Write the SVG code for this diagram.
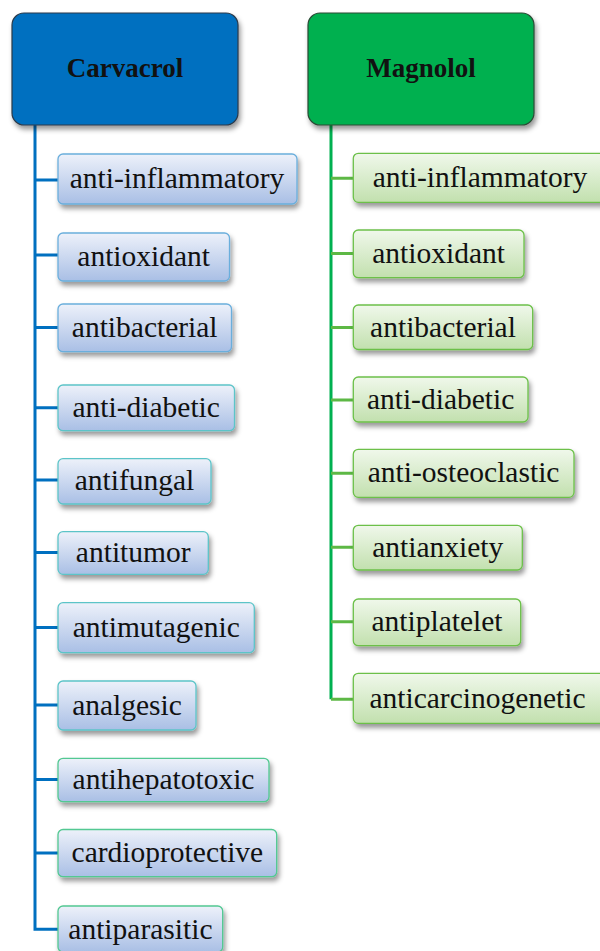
<svg xmlns="http://www.w3.org/2000/svg" width="600" height="951" viewBox="0 0 600 951">
<defs>
<linearGradient id="gb" x1="0" y1="0" x2="0" y2="1"><stop offset="0" stop-color="#EDF1FA"/><stop offset="1" stop-color="#A9BFE5"/></linearGradient>
<linearGradient id="gg" x1="0" y1="0" x2="0" y2="1"><stop offset="0" stop-color="#F0F8EB"/><stop offset="1" stop-color="#C2E0AE"/></linearGradient>
<filter id="sh" x="-10%" y="-20%" width="130%" height="160%"><feDropShadow dx="2" dy="4" stdDeviation="2.5" flood-color="#000" flood-opacity="0.4"/></filter>
</defs>
<style>
text{font-family:"Liberation Serif","Times New Roman",serif;font-size:29.5px;fill:#111;text-anchor:middle}
.hd{font-weight:bold;font-size:27px}
.b rect{fill:url(#gb);stroke-width:1.3;filter:url(#sh)}
.g rect{fill:url(#gg);stroke:#6CC04A;stroke-width:1.3;filter:url(#sh)}
.c1 rect{stroke:#6AAEDC}
.c2 rect{stroke:#5CC4C8}
.c3 rect{stroke:#52C892}
.bl{stroke:#0070C0;stroke-width:3;fill:none}
.gl{stroke:#00B050;stroke-width:3;fill:none}
.gs{stroke:#5DB845;stroke-width:3;fill:none}
</style>
<g id="connectors">
<path class="bl" d="M35,125 V929.3 H58 M35,180 H58 M35,255 H58 M35,327.5 H58 M35,407.7 H58 M35,480 H58 M35,552.5 H58 M35,627.5 H58 M35,705 H58 M35,779.5 H58 M35,853 H58"/>
<path class="gl" d="M331,125 V699.3"/>
<path class="gs" d="M331,699.3 H353 M331,178.3 H353 M331,253.5 H353 M331,327.5 H353 M331,400 H353 M331,473.3 H353 M331,547.3 H353 M331,621.7 H353"/>
</g>
<g id="carvacrol"><rect x="12" y="13" width="226" height="112" rx="12" fill="#0070C0" stroke="#2B3A4A" stroke-width="1.2" filter="url(#sh)"/><text class="hd" x="125" y="77">Carvacrol</text></g>
<g id="magnolol"><rect x="308" y="13" width="226" height="112" rx="12" fill="#00B050" stroke="#2B4A35" stroke-width="1.2" filter="url(#sh)"/><text class="hd" x="421" y="77">Magnolol</text></g>

<g id="c-antiinflammatory" class="b c1"><rect x="58" y="154" width="239" height="50" rx="5"/><text x="177" y="187.5">anti-inflammatory</text></g>
<g id="c-antioxidant" class="b c1"><rect x="58" y="233" width="171.5" height="48" rx="5"/><text x="143.7" y="265.5">antioxidant</text></g>
<g id="c-antibacterial" class="b c1"><rect x="58" y="304" width="173.5" height="47.7" rx="5"/><text x="144.7" y="336.5">antibacterial</text></g>
<g id="c-antidiabetic" class="b c2"><rect x="58" y="385" width="176.5" height="45.7" rx="5"/><text x="146.2" y="416.5">anti-diabetic</text></g>
<g id="c-antifungal" class="b c2"><rect x="58" y="458.7" width="153" height="45.3" rx="5"/><text x="134.5" y="489.5">antifungal</text></g>
<g id="c-antitumor" class="b c2"><rect x="58" y="531.7" width="150.3" height="42.6" rx="5"/><text x="133.2" y="561.5">antitumor</text></g>
<g id="c-antimutagenic" class="b c2"><rect x="58" y="602.7" width="196.3" height="50" rx="5"/><text x="156.2" y="636.5">antimutagenic</text></g>
<g id="c-analgesic" class="b c2"><rect x="58" y="681" width="138" height="49" rx="5"/><text x="127" y="714.5">analgesic</text></g>
<g id="c-antihepatotoxic" class="b c3"><rect x="58" y="758.3" width="211" height="43.4" rx="5"/><text x="163.5" y="788.5">antihepatotoxic</text></g>
<g id="c-cardioprotective" class="b c3"><rect x="58" y="829.5" width="218.7" height="47.2" rx="5"/><text x="167.4" y="862">cardioprotective</text></g>
<g id="c-antiparasitic" class="b c3"><rect x="58" y="906" width="164.7" height="46" rx="5"/><text x="140.4" y="938.5">antiparasitic</text></g>

<g id="m-antiinflammatory" class="g"><rect x="353.3" y="153.3" width="260" height="49" rx="5"/><text x="480" y="187">anti-inflammatory</text></g>
<g id="m-antioxidant" class="g"><rect x="353.3" y="230" width="170.7" height="47.7" rx="5"/><text x="438.6" y="262.5">antioxidant</text></g>
<g id="m-antibacterial" class="g"><rect x="353.3" y="305" width="179.4" height="44.5" rx="5"/><text x="443" y="336.5">antibacterial</text></g>
<g id="m-antidiabetic" class="g"><rect x="353.3" y="377" width="174.7" height="45" rx="5"/><text x="440.6" y="408.5">anti-diabetic</text></g>
<g id="m-antiosteoclastic" class="g"><rect x="353.3" y="449.3" width="220.7" height="48" rx="5"/><text x="463.6" y="482">anti-osteoclastic</text></g>
<g id="m-antianxiety" class="g"><rect x="353.3" y="525.3" width="169" height="44.7" rx="5"/><text x="437.8" y="556.5">antianxiety</text></g>
<g id="m-antiplatelet" class="g"><rect x="353.3" y="599" width="167.4" height="46.7" rx="5"/><text x="437" y="630.5">antiplatelet</text></g>
<g id="m-anticarcinogenetic" class="g"><rect x="353.3" y="673.3" width="260" height="50" rx="5"/><text x="477.5" y="707.5">anticarcinogenetic</text></g>
</svg>
